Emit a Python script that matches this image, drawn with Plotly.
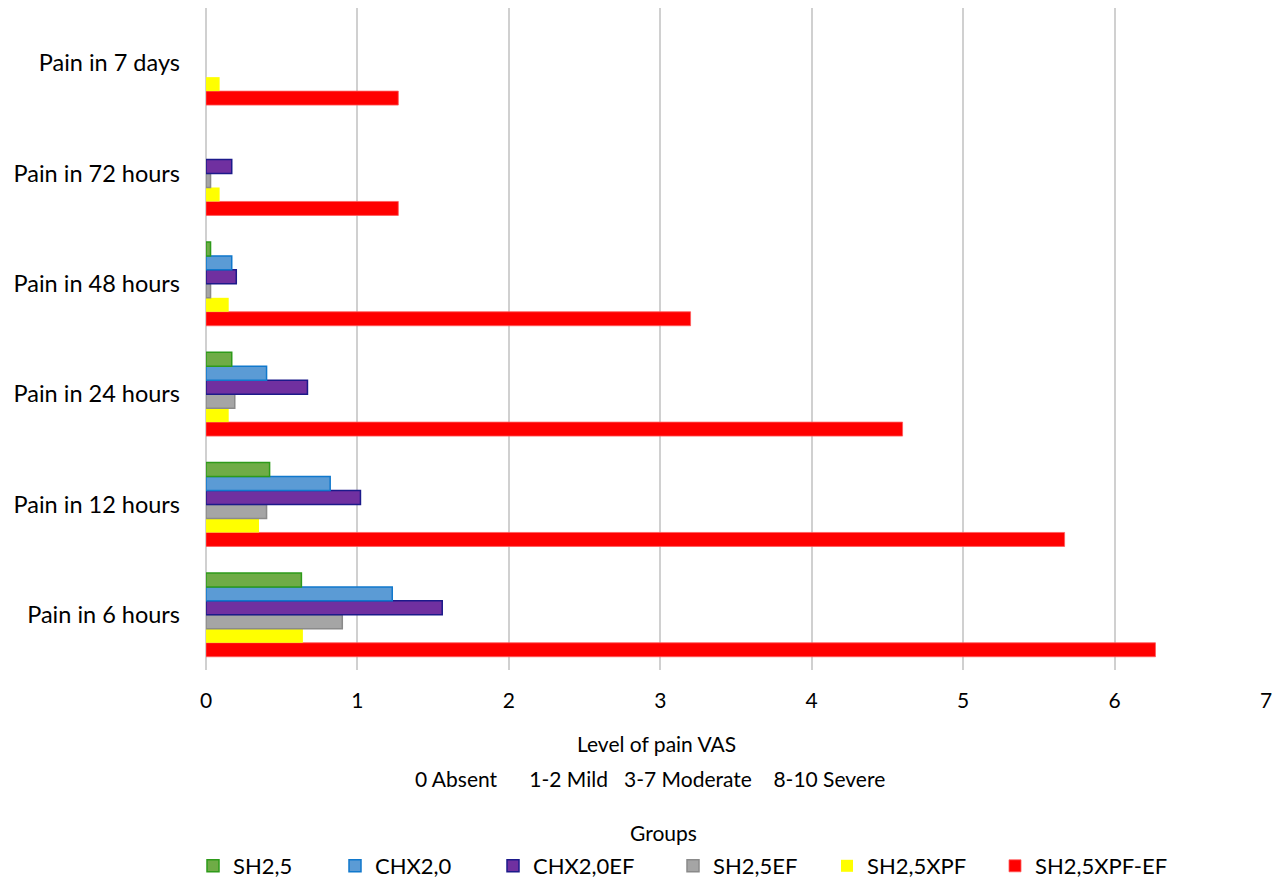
import plotly.graph_objects as go

# Time points (bottom to top on the chart)
categories = ["Pain in 6 hours", "Pain in 12 hours", "Pain in 24 hours",
              "Pain in 48 hours", "Pain in 72 hours", "Pain in 7 days"]

# Mean VAS pain level per group at each time point
sh25 = [0.63, 0.42, 0.17, 0.03, 0.0, 0.0]
chx20 = [1.23, 0.82, 0.40, 0.17, 0.0, 0.0]
chx20ef = [1.56, 1.02, 0.67, 0.20, 0.17, 0.0]
sh25ef = [0.90, 0.40, 0.19, 0.03, 0.03, 0.0]
sh25xpf = [0.64, 0.35, 0.15, 0.15, 0.09, 0.09]
sh25xpf_ef = [6.27, 5.67, 4.60, 3.20, 1.27, 1.27]

group_names = ["SH2,5", "CHX2,0", "CHX2,0EF", "SH2,5EF", "SH2,5XPF", "SH2,5XPF-EF"]
group_values = [sh25, chx20, chx20ef, sh25ef, sh25xpf, sh25xpf_ef]

x_ticks = [0, 1, 2, 3, 4, 5, 6, 7]

fills = ["#6fac46", "#5b9bd5", "#7030a0", "#a5a5a5", "#ffff00", "#ff0000"]
borders = ["#2e9a1a", "#1078cc", "#1c1a8a", "#8a8a8a", "#ffff00", "#ff5a5a"]
border_w = [1.5, 1.5, 1.5, 1.5, 0, 0.8]

# left pixel where each legend entry's label begins
legend_text_x = [234, 376, 534, 714, 868, 1036]

FONT = "Lato, Open Sans, sans-serif"
W, H = 1288, 883

fig = go.Figure()
# Add in reverse so the first group sits at the top of each cluster
for i in reversed(range(len(group_names))):
    vals = group_values[i]
    fig.add_trace(go.Bar(
        y=categories,
        x=vals,
        name=group_names[i],
        orientation="h",
        legend="legend" if i == 0 else f"legend{i + 1}",
        marker=dict(
            color=fills[i],
            # no outline on empty bars
            line=dict(color=borders[i],
                      width=[border_w[i] if v > 0 else 0 for v in vals]),
        ),
    ))

# one single-entry legend per group, laid out in a row under the chart
legends = {}
for i in range(len(group_names)):
    key = "legend" if i == 0 else f"legend{i + 1}"
    legends[key] = dict(
        orientation="h",
        x=(legend_text_x[i] - 41) / W, xanchor="left", xref="container",
        y=1 - 866 / H, yanchor="middle", yref="container",
        font=dict(size=22, family=FONT),
        bgcolor="rgba(0,0,0,0)",
    )

fig.update_layout(
    width=W, height=H,
    margin=dict(l=206, r=22, t=8, b=213, autoexpand=False),
    paper_bgcolor="white", plot_bgcolor="white",
    barmode="group", bargap=0.24, bargroupgap=0,
    font=dict(family=FONT, color="#000000"),
    showlegend=True,
    xaxis=dict(
        range=[0, 7], tickvals=x_ticks, ticktext=[str(t) for t in x_ticks],
        showgrid=True, gridcolor="#d0d0d0", gridwidth=2,
        zeroline=True, zerolinecolor="#d0d0d0", zerolinewidth=2,
        showline=False, ticks="", tickfont=dict(size=21, family=FONT),
        ticklabelstandoff=16,
    ),
    yaxis=dict(
        categoryorder="array", categoryarray=categories,
        showgrid=False, zeroline=False, showline=False, ticks="",
        tickfont=dict(size=23.5, family=FONT), ticklabelstandoff=25,
    ),
    annotations=[
        dict(text="Level of pain VAS", xref="paper", yref="paper",
             x=(656 - 206) / 1060, y=-(743 - 670) / 662, xanchor="center", yanchor="middle",
             showarrow=False, font=dict(size=21, family=FONT)),
        dict(text="0 Absent&nbsp;&nbsp;&nbsp;&nbsp;&nbsp;&nbsp;1-2 Mild&nbsp;&nbsp;&nbsp;3-7 Moderate&nbsp;&nbsp;&nbsp;&nbsp;8-10 Severe",
             xref="paper", yref="paper",
             x=(650 - 206) / 1060, y=-(778 - 670) / 662, xanchor="center", yanchor="middle",
             showarrow=False, font=dict(size=21, family=FONT)),
        dict(text="Groups", xref="paper", yref="paper",
             x=(663 - 206) / 1060, y=-(833 - 670) / 662, xanchor="center", yanchor="middle",
             showarrow=False, font=dict(size=21, family=FONT)),
    ],
    **legends,
)

fig.write_html("out.html")
